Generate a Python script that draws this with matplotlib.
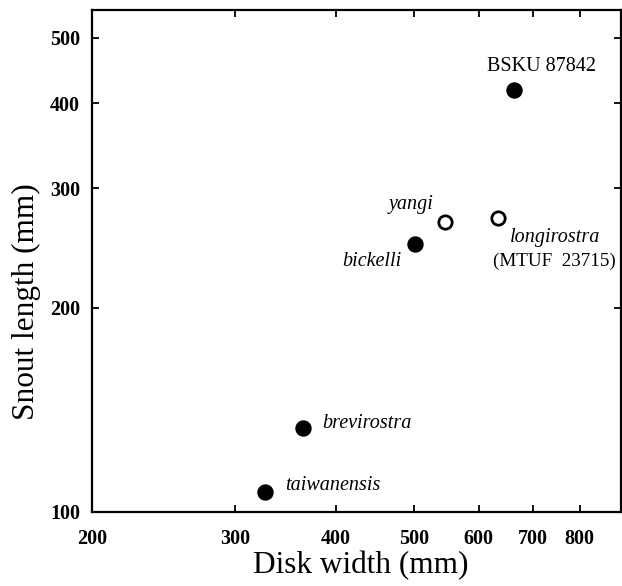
import matplotlib
matplotlib.use("Agg")
import matplotlib.pyplot as plt

plt.rcParams['font.family'] = ['Liberation Serif', 'DejaVu Serif']

# Data (disk width mm, snout length mm)
names = ["BSKU 87842", "yangi", "longirostra", "bickelli", "brevirostra", "taiwanensis"]
disk_width = [663, 545, 635, 501, 364, 327]
snout_length = [418, 267, 271, 248, 133, 107]
filled = [True, False, False, True, True, True]

xticks = [200, 300, 400, 500, 600, 700, 800]
yticks = [100, 200, 300, 400, 500]

fig = plt.figure(figsize=(6.22, 5.86), dpi=100)
ax = fig.add_axes([0.1487, 0.1263, 0.8497, 0.8558])

for x, y, f in zip(disk_width, snout_length, filled):
    if f:
        ax.plot(x, y, 'o', ms=10.8, mfc='black', mec='black', mew=1, zorder=3)
    else:
        ax.plot(x, y, 'o', ms=9.6, mfc='white', mec='black', mew=2.0, zorder=3)

ax.set_xscale('log')
ax.set_yscale('log')
ax.set_xlim(200, 900)
ax.set_ylim(100, 548)
ax.minorticks_off()
ax.set_xticks(xticks)
ax.set_xticklabels([str(t) for t in xticks], fontsize=14.5, fontweight='bold')
ax.set_yticks(yticks)
ax.set_yticklabels([str(t) for t in yticks], fontsize=14.5, fontweight='bold')
ax.tick_params(which='minor', length=0)
ax.tick_params(which='major', direction='in', length=5, width=1.3, top=True, right=True)
ax.tick_params(axis='x', pad=12.5)
ax.tick_params(axis='y', pad=9)
for s in ax.spines.values():
    s.set_linewidth(1.6)

fs = 14.5
def note(i, text, dx, dy, ha='center', style='italic', size=fs):
    ax.annotate(text, (disk_width[i], snout_length[i]), xytext=(dx, dy),
                textcoords='offset points', ha=ha, va='center',
                fontsize=size, fontstyle=style)

note(0, "BSKU 87842", 20, 17, style='normal')
note(1, "yangi", -24, 13)
note(2, "longirostra", 41, -14)
note(2, "(MTUF  23715)", 40, -31, style='normal', size=13.8)
note(3, "bickelli", -31.5, -12.5)
note(4, "brevirostra", 13.8, 3.2, ha='left')
note(5, "taiwanensis", 14.4, 4.5, ha='left')

fig.text(361/622, 1 - 573/586, "Disk width (mm)", ha='center', va='baseline', fontsize=22.5)
fig.text(26/622, 1 - 302/586, "Snout length (mm)", ha='center', va='center',
         rotation=90, fontsize=22.5)

fig.savefig("out.png", dpi=100)
